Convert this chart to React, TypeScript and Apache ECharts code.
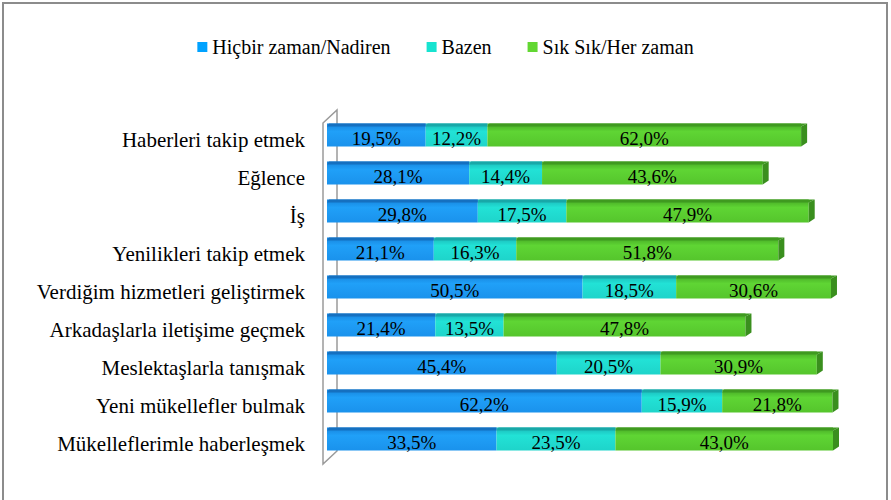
import React, { useEffect, useRef } from "react";
import * as echarts from "echarts";

const categories = [
  "Haberleri takip etmek",
  "Eğlence",
  "İş",
  "Yenilikleri takip etmek",
  "Verdiğim hizmetleri geliştirmek",
  "Arkadaşlarla iletişime geçmek",
  "Meslektaşlarla tanışmak",
  "Yeni mükellefler bulmak",
  "Mükelleflerimle haberleşmek",
];
const seriesNames = ["Hiçbir zaman/Nadiren", "Bazen", "Sık Sık/Her zaman"];
const nadiren = [19.5, 28.1, 29.8, 21.1, 50.5, 21.4, 45.4, 62.2, 33.5];
const bazen = [12.2, 14.4, 17.5, 16.3, 18.5, 13.5, 20.5, 15.9, 23.5];
const herZaman = [62.0, 43.6, 47.9, 51.8, 30.6, 47.8, 30.9, 21.8, 43.0];

const FONT = "'Liberation Serif', 'Times New Roman', serif";
const BAR_H = 23;

const faceColors = [
  ["#1684dc", "#20a0f8", "#1a92ec"],
  ["#1ab8b8", "#22e2d6", "#1ed4ca"],
  ["#45a824", "#5fd534", "#55c52c"],
];
const topColors = ["#1570c0", "#18a8a8", "#3f9a20"];
const capColor = "#3a8f1e";
const legendColors = ["#00a2ff", "#17e3d0", "#62d732"];

export default function App() {
  const ref = useRef<HTMLDivElement>(null);
  useEffect(() => {
    if (!ref.current) return;
    const chart = echarts.init(ref.current, undefined, { renderer: "svg" });
    const values = [nadiren, bazen, herZaman];

    const grad = (c: string[]) =>
      new echarts.graphic.LinearGradient(0, 0, 0, 1, [
        { offset: 0, color: c[0] },
        { offset: 0.35, color: c[1] },
        { offset: 1, color: c[2] },
      ]);

    const barSeries = values.map((vals, si) => ({
      name: seriesNames[si],
      type: "bar",
      stack: "total",
      barWidth: BAR_H,
      data: vals,
      z: 3,
      itemStyle: { color: grad(faceColors[si]) },
      label: {
        show: true,
        position: "inside",
        color: "#000",
        fontFamily: FONT,
        fontSize: 19,
        offset: [0, 3],
        formatter: (p: any) => p.value.toFixed(1).replace(".", ",") + "%",
      },
    }));

    const segData: any[] = [];
    categories.forEach((_, ci) => {
      let start = 0;
      values.forEach((vals, si) => {
        const end = start + vals[ci];
        segData.push([start, end, ci, si, si === values.length - 1 ? 1 : 0]);
        start = end;
      });
    });

    const decoSeries = {
      type: "custom",
      z: 4,
      silent: true,
      data: segData,
      encode: { x: [0, 1], y: 2 },
      renderItem: (params: any, api: any) => {
        const s = api.coord([api.value(0), api.value(2)]);
        const e = api.coord([api.value(1), api.value(2)]);
        const si = api.value(3);
        const last = api.value(4);
        const top = s[1] - BAR_H / 2;
        const bot = s[1] + BAR_H / 2;
        const children: any[] = [
          {
            type: "polygon",
            shape: {
              points: [
                [s[0], top + 3],
                [s[0] + 2, top],
                [e[0] + (last ? 6 : 0), top],
                [e[0], top + 3],
              ],
            },
            style: { fill: topColors[si] },
          },
        ];
        if (last) {
          children.push({
            type: "polygon",
            shape: {
              points: [
                [e[0], top + 3],
                [e[0] + 6, top],
                [e[0] + 6, bot - 4],
                [e[0], bot],
              ],
            },
            style: { fill: capColor },
          });
        }
        return { type: "group", children };
      },
    };

    chart.setOption({
      animation: false,
      backgroundColor: "#fff",
      legend: {
        top: 32,
        left: "center",
        itemWidth: 10,
        itemHeight: 10,
        itemGap: 36,
        icon: "rect",
        textStyle: { fontFamily: FONT, fontSize: 20, color: "#000" },
        data: seriesNames.map((n, i) => ({ name: n, itemStyle: { color: legendColors[i] } })),
      },
      grid: { left: 327, right: 58, top: 116, bottom: 42 },
      xAxis: { type: "value", min: 0, max: 100, show: false },
      yAxis: {
        type: "category",
        inverse: true,
        data: categories,
        axisLine: { show: false },
        axisTick: { show: false },
        axisLabel: {
          fontFamily: FONT,
          fontSize: 21,
          color: "#000",
          margin: 22,
          verticalAlign: "top",
          lineHeight: 10,
        },
      },
      graphic: [
        {
          type: "rect",
          shape: { x: 3, y: 3, width: 884, height: 520 },
          style: { fill: "none", stroke: "#8c8c8c", lineWidth: 2 },
        },
        {
          type: "polygon",
          shape: { points: [[323, 123], [337, 110], [337, 451], [323, 464]] },
          style: { fill: "#fff", stroke: "#9a9a9a", lineWidth: 1.5 },
        },
      ],
      series: [...barSeries, decoSeries],
    });
    return () => chart.dispose();
  }, []);
  return (
    <div
      ref={ref}
      style={{ position: "fixed", left: 0, top: 0, width: 891, height: 500, background: "#fff" }}
    />
  );
}
